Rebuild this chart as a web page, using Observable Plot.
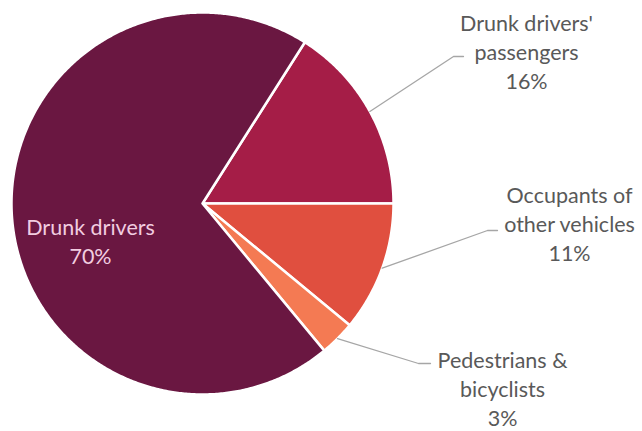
<!DOCTYPE html>
<html>
<head>
<meta charset="utf-8">
<script src="https://cdn.jsdelivr.net/npm/d3@7"></script>
<script src="https://cdn.jsdelivr.net/npm/@observablehq/plot@0.6"></script>
<style>
  html, body { margin: 0; padding: 0; background: #fff; }
  #chart svg { display: block; }
</style>
</head>
<body>
<div id="chart"></div>
<script>
// ---- data (clockwise order, starting at the passengers slice) ----
const categories = ["Drunk drivers' passengers", "Occupants of other vehicles", "Pedestrians & bicyclists", "Drunk drivers"];
const labelLines = [["Drunk drivers'", "passengers"], ["Occupants of", "other vehicles"], ["Pedestrians &", "bicyclists"], ["Drunk drivers"]];
const values = [16, 11, 3, 70];
const colors = ["#a51d47", "#e04f3f", "#f47a53", "#6a1741"];

// ---- layout ----
const W = 642, H = 431;
const cx = 202, cy = 203, R = 191;
const startDeg = 32.4; // angle (clockwise from top) where the first slice begins
const labelPos = [
  {x: 526, y: 50, elbow: [453, 56], end: [463, 56], inside: false},
  {x: 569, y: 222, elbow: [487, 230], end: [497, 230], inside: false},
  {x: 502, y: 387, elbow: [418, 363], end: [430, 363], inside: false},
  {x: 90, y: 240, inside: true}
];

const total = d3.sum(values);
let acc = startDeg;
const slices = categories.map((c, i) => {
  const a0 = acc, a1 = acc + values[i] / total * 360;
  acc = a1;
  return {cat: c, a0, a1, mid: (a0 + a1) / 2, value: values[i], i};
});

const rad = d => d * Math.PI / 180;
const wedgePts = [];
for (const s of slices) {
  wedgePts.push({cat: s.cat, x: cx, y: cy});
  const n = Math.max(4, Math.ceil((s.a1 - s.a0) / 0.5));
  for (let k = 0; k <= n; k++) {
    const a = rad(s.a0 + (s.a1 - s.a0) * k / n);
    wedgePts.push({cat: s.cat, x: cx + R * Math.sin(a), y: cy - R * Math.cos(a)});
  }
}

const leaderPts = [];
const labels = [];
slices.forEach((s, i) => {
  const L = labelPos[i];
  const text = labelLines[i].concat([s.value + "%"]).join("\n");
  labels.push({text, x: L.x, y: L.y, inside: L.inside});
  if (!L.inside) {
    const a = rad(s.mid);
    leaderPts.push({cat: s.cat, x: cx + R * Math.sin(a), y: cy - R * Math.cos(a)});
    leaderPts.push({cat: s.cat, x: L.elbow[0], y: L.elbow[1]});
    leaderPts.push({cat: s.cat, x: L.end[0], y: L.end[1]});
  }
});

const FS = 21.5;
const chart = Plot.plot({
  width: W,
  height: H,
  margin: 0,
  style: {background: "#fff"},
  x: {domain: [0, W], range: [0, W], axis: null},
  y: {domain: [0, H], range: [0, H], axis: null},
  color: {type: "ordinal", domain: categories, range: colors},
  marks: [
    Plot.line(wedgePts, {x: "x", y: "y", z: "cat", fill: "cat", stroke: "white", strokeWidth: 2.5, curve: "linear-closed", strokeLinejoin: "round"}),
    Plot.line(leaderPts, {x: "x", y: "y", z: "cat", stroke: "#a6a6a6", strokeWidth: 1.3}),
    Plot.text(labels.filter(d => !d.inside), {x: "x", y: "y", text: "text", fill: "#595959", fontSize: FS, fontFamily: "Lato", lineHeight: 29 / FS, textAnchor: "middle", lineAnchor: "middle"}),
    Plot.text(labels.filter(d => d.inside), {x: "x", y: "y", text: "text", fill: "#f2cde0", fontSize: FS, fontFamily: "Lato", lineHeight: 29 / FS, textAnchor: "middle", lineAnchor: "middle"})
  ]
});
document.getElementById("chart").appendChild(chart);
</script>
</body>
</html>
